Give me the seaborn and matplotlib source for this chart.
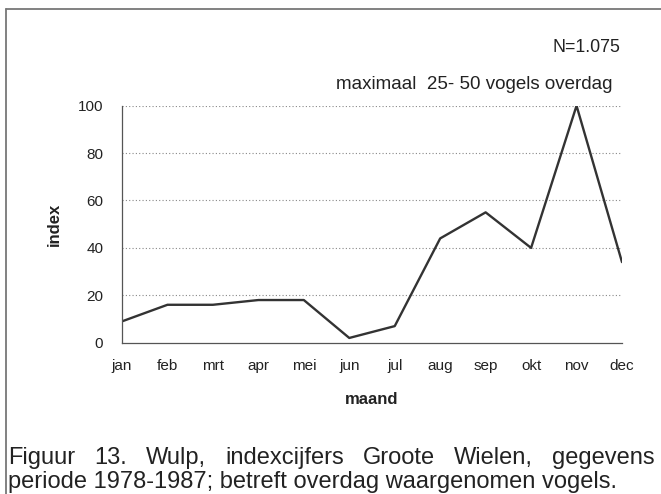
import matplotlib
matplotlib.use("Agg")
import matplotlib.pyplot as plt
from matplotlib.lines import Line2D
import seaborn as sns

# maandelijkse indexcijfers (wulp, Groote Wielen)
maanden = ["jan", "feb", "mrt", "apr", "mei", "jun", "jul", "aug", "sep", "okt", "nov", "dec"]
index = [9, 16, 16, 18, 18, 2, 7, 44, 55, 40, 100, 34]
y_ticks = [0, 20, 40, 60, 80, 100]

caption_1 = ["Figuur", "13.", "Wulp,", "indexcijfers", "Groote", "Wielen,", "gegevens"]
caption_2 = "periode 1978-1987; betreft overdag waargenomen vogels."

sns.set_style("white")
plt.rcParams["font.family"] = ["Liberation Sans", "DejaVu Sans"]

W, H = 661, 494
fig = plt.figure(figsize=(W / 100, H / 100), dpi=100)
fig.patch.set_facecolor("white")
ax = fig.add_axes([122 / W, 1 - 342.7 / H, 500 / W, (342.7 - 105.7) / H])

x = list(range(len(maanden)))
sns.lineplot(x=x, y=index, ax=ax, color="#333333", linewidth=1.7)

ax.set_xlim(0, len(maanden) - 1)
ax.set_ylim(0, 100)
ax.set_xticks(x)
ax.set_xticklabels(maanden)
ax.set_yticks(y_ticks)
ax.tick_params(axis="both", direction="out", length=7, width=0.9, color="#555555",
               labelsize=11, labelcolor="#222222")
ax.tick_params(axis="x", pad=5)
ax.tick_params(axis="y", pad=6.5)
for y in y_ticks[1:]:
    ax.axhline(y, color="#888888", linewidth=0.8, linestyle=(0, (1, 2)), zorder=0)
for side in ["top", "right"]:
    ax.spines[side].set_visible(False)
for side in ["left", "bottom"]:
    ax.spines[side].set_color("#555555")
    ax.spines[side].set_linewidth(0.9)
ax.set_facecolor("none")

ax.set_xlabel("maand", fontsize=12, fontweight="bold", color="#222222")
ax.set_ylabel("index", fontsize=12, fontweight="bold", color="#222222")
ax.xaxis.set_label_coords(0.5, -0.208)
ax.yaxis.set_label_coords(-0.12, 0.5)

fig.text(620 / W, 1 - 48 / H, "N=1.075", ha="right", va="center", fontsize=12.8, color="#222222")
fig.text(612 / W, 1 - 84 / H, "maximaal  25- 50 vogels overdag", ha="right", va="center",
         fontsize=13.5, color="#222222")

# kader
fig.add_artist(Line2D([6 / W, 1], [1 - 9 / H, 1 - 9 / H], color="#777777", linewidth=1.3))
fig.add_artist(Line2D([6 / W, 6 / W], [0, 1 - 9 / H], color="#777777", linewidth=1.3))

# onderschrift, eerste regel uitgevuld
cap_size = 17
fig.canvas.draw()
renderer = fig.canvas.get_renderer()
words = [fig.text(0, 1 - 464 / H, w, fontsize=cap_size, va="baseline", color="#222222") for w in caption_1]
widths = [t.get_window_extent(renderer).width for t in words]
left, right = 8, 655
gap = (right - left - sum(widths)) / (len(words) - 1)
pos = left
for t, w in zip(words, widths):
    t.set_x(pos / W)
    pos += w + gap
fig.text(left / W, 1 - 488 / H, caption_2, fontsize=cap_size, va="baseline", color="#222222")

fig.savefig("out.png", dpi=100)
